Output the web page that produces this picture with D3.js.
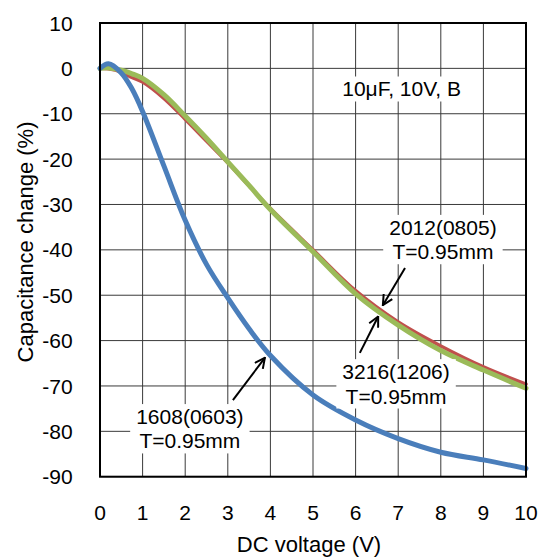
<!DOCTYPE html>
<html>
<head>
<meta charset="utf-8">
<script src="https://cdn.jsdelivr.net/npm/d3@7"></script>
<style>
  body { margin: 0; background: #fff; }
  svg text { font-family: "Liberation Sans", Arial, sans-serif; font-size: 21px; fill: #000; }
  svg text.title { font-size: 22px; }
</style>
</head>
<body>
<div class="chart"></div>
<script>
// DC bias characteristics, 10uF 10V B
var voltage = [0, 0.2, 0.5, 0.75, 1, 1.5, 2, 2.5, 3, 3.5, 4, 5, 6, 7, 8, 9, 10];
var size1608 = [0, 1, -1, -4.5, -9.5, -21.5, -33.5, -43.2, -50.6, -57.4, -63.3, -72, -77.5, -81.6, -84.6, -86.3, -88.2];
var size2012 = [0, -0.1, -0.8, -2, -3, -6.6, -11.2, -16, -20.8, -25.9, -30.9, -40, -49, -55.9, -61.2, -65.8, -69.6];
var size3216 = [0, 0.1, -0.4, -1.2, -2.2, -5.8, -10.5, -15.4, -20.6, -25.8, -31.1, -40.4, -49.7, -56.6, -62.2, -66.5, -70.5];

var xTicks = [0, 1, 2, 3, 4, 5, 6, 7, 8, 9, 10];
var yTicks = [10, 0, -10, -20, -30, -40, -50, -60, -70, -80, -90];

var svgWidth = 541;
var svgHeight = 557;

var margin = {
    top: 23,
    right: 15,
    bottom: 80,
    left: 100
}

var width = 426;
var height = 453.7;

var svg = d3.select(".chart")
    .append("svg")
    .attr("width", svgWidth).attr("height", svgHeight)

var chartGroup = svg.append("g")
    .attr("transform", `translate(${margin.left}, ${margin.top})`);

var xScale = d3.scaleLinear().domain([0, 10]).range([0, width]);
var yScale = d3.scaleLinear().domain([-90, 10]).range([height, 0]);

// grid
chartGroup.append("g").selectAll("line.v")
    .data(xTicks).enter().append("line")
    .attr("x1", d => xScale(d)).attr("x2", d => xScale(d))
    .attr("y1", 0).attr("y2", height)
    .attr("stroke", "#3a3a3a").attr("stroke-width", 1)

chartGroup.append("g").selectAll("line.h")
    .data(yTicks).enter().append("line")
    .attr("x1", 0).attr("x2", width)
    .attr("y1", d => yScale(d)).attr("y2", d => yScale(d))
    .attr("stroke", "#3a3a3a").attr("stroke-width", 1)

// tick labels
chartGroup.append("g").selectAll("text")
    .data(xTicks).enter().append("text")
    .attr("x", d => xScale(d))
    .attr("y", height + 43.3)
    .attr("text-anchor", "middle")
    .text(d => d)

chartGroup.append("g").selectAll("text")
    .data(yTicks).enter().append("text")
    .attr("x", -27.3)
    .attr("y", d => yScale(d))
    .attr("dy", "0.36em")
    .attr("text-anchor", "end")
    .text(d => d)

// curves
var series = [
    { values: size2012, color: "#C0504D", w: 3.5 },
    { values: size3216, color: "#9BBB59", w: 5 },
    { values: size1608, color: "#4A7EBB", w: 5 }
];

var line = d3.line()
    .x(d => xScale(d[0]))
    .y(d => yScale(d[1]))
    .curve(d3.curveCatmullRom.alpha(0.5));

series.forEach(function(s) {
    chartGroup.append("path")
        .datum(voltage.map((v, i) => [v, s.values[i]]))
        .attr("d", line)
        .attr("fill", "none")
        .attr("stroke", s.color)
        .attr("stroke-width", s.w)
        .attr("stroke-linejoin", "round")
        .attr("stroke-linecap", "round")
});

// plot border
chartGroup.append("rect")
    .attr("x", 0).attr("y", 0)
    .attr("width", width).attr("height", height)
    .attr("fill", "none").attr("stroke", "#000").attr("stroke-width", 2)

// annotations
svg.append("defs").append("marker")
    .attr("id", "arrow")
    .attr("viewBox", "0 0 12 12")
    .attr("refX", 11).attr("refY", 6)
    .attr("markerWidth", 12).attr("markerHeight", 12)
    .attr("markerUnits", "userSpaceOnUse")
    .attr("orient", "auto")
    .append("path")
    .attr("d", "M1,1 L11,6 L1,11")
    .attr("fill", "none").attr("stroke", "#000").attr("stroke-width", 2)

var labels = [
    { lines: ["10\u03bcF, 10V, B"], v: 7.08, p: -6.2 },
    { lines: ["2012(0805)", "T=0.95mm"], v: 8.05, p: -36.7 },
    { lines: ["3216(1206)", "T=0.95mm"], v: 6.95, p: -68.5 },
    { lines: ["1608(0603)", "T=0.95mm"], v: 2.11, p: -78.4 }
];

var arrows = [
    { from: [7.16, -44], to: [6.64, -52.2] },
    { from: [6.1, -62.7], to: [6.53, -54.7] },
    { from: [3.12, -73.1], to: [3.87, -63.8] }
];

arrows.forEach(function(a) {
    chartGroup.append("line")
        .attr("x1", xScale(a.from[0])).attr("y1", yScale(a.from[1]))
        .attr("x2", xScale(a.to[0])).attr("y2", yScale(a.to[1]))
        .attr("stroke", "#000").attr("stroke-width", 2)
        .attr("marker-end", "url(#arrow)")
});

labels.forEach(function(l) {
    var g = chartGroup.append("g");
    var box = g.append("rect").attr("fill", "#fff");
    var t = g.append("text")
        .attr("x", xScale(l.v))
        .attr("y", yScale(l.p))
        .attr("text-anchor", "middle");
    l.lines.forEach(function(s, i) {
        t.append("tspan")
            .attr("x", xScale(l.v))
            .attr("dy", i == 0 ? 0 : "1.16em")
            .text(s)
    });
    var bb = t.node().getBBox();
    box.attr("x", bb.x - 6).attr("y", bb.y - 1)
        .attr("width", bb.width + 12).attr("height", bb.height + 2)
});

// axis titles
svg.append("text")
    .attr("class", "title")
    .attr("transform", "translate(33, 242) rotate(-90)")
    .attr("text-anchor", "middle")
    .text("Capacitance change (%)")

svg.append("text")
    .attr("class", "title")
    .attr("x", 309)
    .attr("y", 552)
    .attr("text-anchor", "middle")
    .text("DC voltage (V)")
</script>
</body>
</html>
